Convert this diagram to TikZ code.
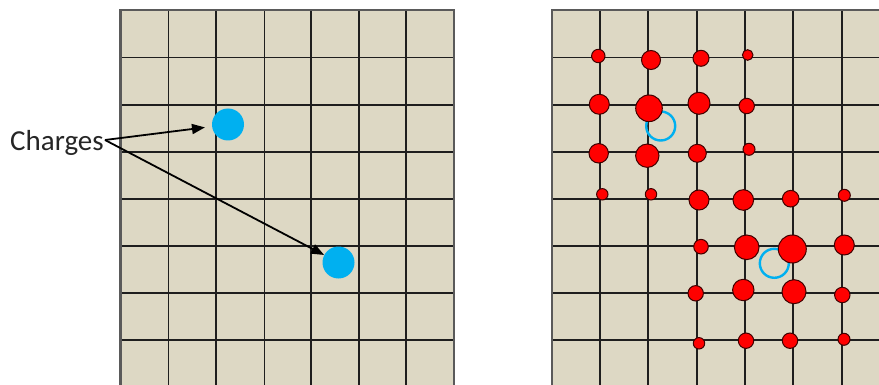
\documentclass[tikz,border=0pt]{standalone}
\usepackage{fontspec}
\setmainfont{Carlito}
\usetikzlibrary{arrows.meta}
\definecolor{tanbg}{RGB}{221,216,196}
\definecolor{qblue}{RGB}{0,176,240}
\definecolor{gridc}{RGB}{30,30,30}
\definecolor{edgec}{RGB}{90,90,90}
\begin{document}
\begin{tikzpicture}[x=1pt,y=-1pt,
  gridline/.style={draw=gridc,line width=1.6pt},
  edgeline/.style={draw=edgec,line width=2.2pt},
  charge/.style={circle,fill=qblue,inner sep=0pt,minimum size=32pt},
  ring/.style={circle,draw=qblue,line width=2.4pt,inner sep=0pt,minimum size=29pt},
  rdot/.style={circle,fill=red,draw=black!75!red,line width=1pt,inner sep=0pt,minimum size=#1},
  arr/.style={line width=1.8pt,-{Triangle[length=13pt,width=10pt]}}]
\useasboundingbox (0,0) rectangle (879,385);
\clip (0,0) rectangle (879,385);
% left panel
\fill[tanbg] (120.5,10) rectangle (454,386);
\foreach \x in {168.3,216,264.3,311,359,406}
  \draw[gridline] (\x,10) -- (\x,386);
\foreach \y in {57.5,105,152,199,246,293,340}
  \draw[gridline] (120.5,\y) -- (454,\y);
\draw[edgeline] (120.5,386) -- (120.5,10) -- (454,10) -- (454,386);
% right panel
\fill[tanbg] (552,10) rectangle (880,386);
\foreach \x in {600,648,697,745,793,842}
  \draw[gridline] (\x,10) -- (\x,386);
\foreach \y in {57.5,105,152,199,246,293,340}
  \draw[gridline] (552,\y) -- (880,\y);
\draw[edgeline] (552,386) -- (552,10) -- (880,10);
% charges on left
\node[charge] (q1) at (228,124.5) {};
\node[charge] (q2) at (338.5,262.5) {};
\node[anchor=base west,inner sep=0pt,text=black!85,font=\fontsize{29}{34}\selectfont] (lbl) at (10,151) {Charges};
\coordinate (src) at (105,140);
\draw[arr,shorten >=7pt] (src) -- (q1);
\draw[arr] (src) -- (q2);
% rings on right
\node[ring] (o1) at (660.7,126) {};
\node[ring] (o2) at (774.3,263.3) {};
% red dots
\foreach \x/\y/\s [count=\i] in {
  598.3/56/13.4, 651/60/19, 701/58.3/16, 747.7/55/10.6,
  599.3/104.3/20, 649/108.3/26.6, 699/103.3/22, 746.7/106/15.4,
  598.7/153.3/19.4, 647.3/155.7/23.4, 697.3/153.3/18, 749/149.3/12,
  602.3/194.3/11.4, 651/194.3/11.4, 699/200/20, 743.3/200/20.6, 790.7/198.7/16.6, 844.3/195.3/12,
  701/246.7/14.6, 746.7/247.3/24.6, 792.3/249/28, 844.3/245/20,
  695.7/293.3/15.4, 743.3/290/21.4, 794/291.7/24, 842.3/295/15.4,
  699/343.3/11.4, 746/340.7/15.4, 790/340.7/15.4, 844/339.3/12}
  \node[rdot=\s pt] (d\i) at (\x,\y) {};
\end{tikzpicture}
\end{document}
